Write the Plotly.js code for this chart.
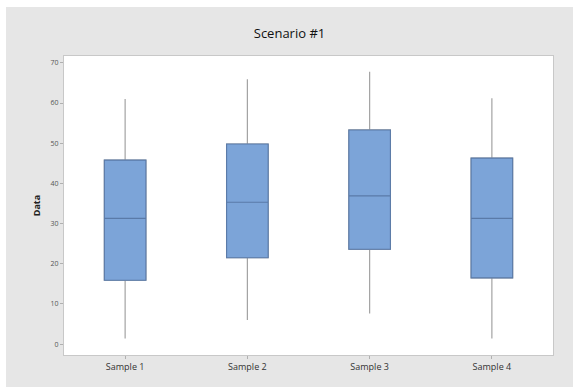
<!DOCTYPE html>
<html>
<head>
<meta charset="utf-8">
<script src="https://cdn.plot.ly/plotly-3.0.1.min.js"></script>
<style>
html,body{margin:0;padding:0;background:#ffffff;}
#chart{position:absolute;left:6px;top:7px;width:567px;height:380px;}
</style>
</head>
<body>
<div id="chart"></div>
<script>
var categories = ["Sample 1", "Sample 2", "Sample 3", "Sample 4"];
var lowerWhisker = [1.4, 6.0, 7.6, 1.4];
var q1Values = [15.9, 21.5, 23.6, 16.5];
var medianValues = [31.3, 35.3, 36.9, 31.3];
var q3Values = [45.8, 49.8, 53.3, 46.3];
var upperWhisker = [61.0, 65.9, 67.8, 61.2];
var yTicks = [0, 10, 20, 30, 40, 50, 60, 70];

var whiskers = {
  type: "box",
  x: categories,
  q1: q1Values,
  median: medianValues,
  q3: q3Values,
  lowerfence: lowerWhisker,
  upperfence: upperWhisker,
  width: 0.34,
  whiskerwidth: 0,
  fillcolor: "#7ca4d8",
  line: {color: "#a3a3a3", width: 1.2},
  boxpoints: false,
  hoverinfo: "skip",
  showlegend: false
};
var boxes = {
  type: "box",
  x: categories,
  q1: q1Values,
  median: medianValues,
  q3: q3Values,
  lowerfence: q1Values,
  upperfence: q3Values,
  width: 0.34,
  whiskerwidth: 0,
  fillcolor: "#7ca4d8",
  line: {color: "#5a7aa8", width: 1.1},
  boxpoints: false,
  showlegend: false
};

var layout = {
  width: 567,
  height: 380,
  margin: {l: 58, r: 20, t: 49, b: 32},
  paper_bgcolor: "#e6e6e6",
  plot_bgcolor: "#ffffff",
  boxmode: "overlay",
  font: {family: "Open Sans, Noto Sans, sans-serif", color: "#333333"},
  title: {
    text: "Scenario #1",
    x: 0.5,
    xanchor: "center",
    y: 1 - 26 / 380,
    yanchor: "middle",
    font: {size: 13, color: "#111111", family: "Open Sans, Noto Sans, sans-serif", weight: 500}
  },
  xaxis: {
    type: "category",
    range: [-0.5, 3.5],
    showgrid: false,
    zeroline: false,
    showline: true,
    linecolor: "#c8c8c8",
    mirror: true,
    ticks: "outside",
    ticklen: 3,
    tickcolor: "#b0b0b0",
    tickfont: {size: 9, color: "#333333"}
  },
  yaxis: {
    range: [-2.7, 71.7],
    tickvals: yTicks,
    ticktext: yTicks.map(String),
    showgrid: false,
    zeroline: false,
    showline: true,
    linecolor: "#c8c8c8",
    mirror: true,
    ticks: "outside",
    ticklen: 3,
    tickcolor: "#b0b0b0",
    tickfont: {size: 7, color: "#555555"},
    title: {text: "Data", standoff: 8, font: {size: 9, color: "#222222", weight: 700}}
  }
};

Plotly.newPlot("chart", [whiskers, boxes], layout, {displayModeBar: false, staticPlot: true});
</script>
</body>
</html>
